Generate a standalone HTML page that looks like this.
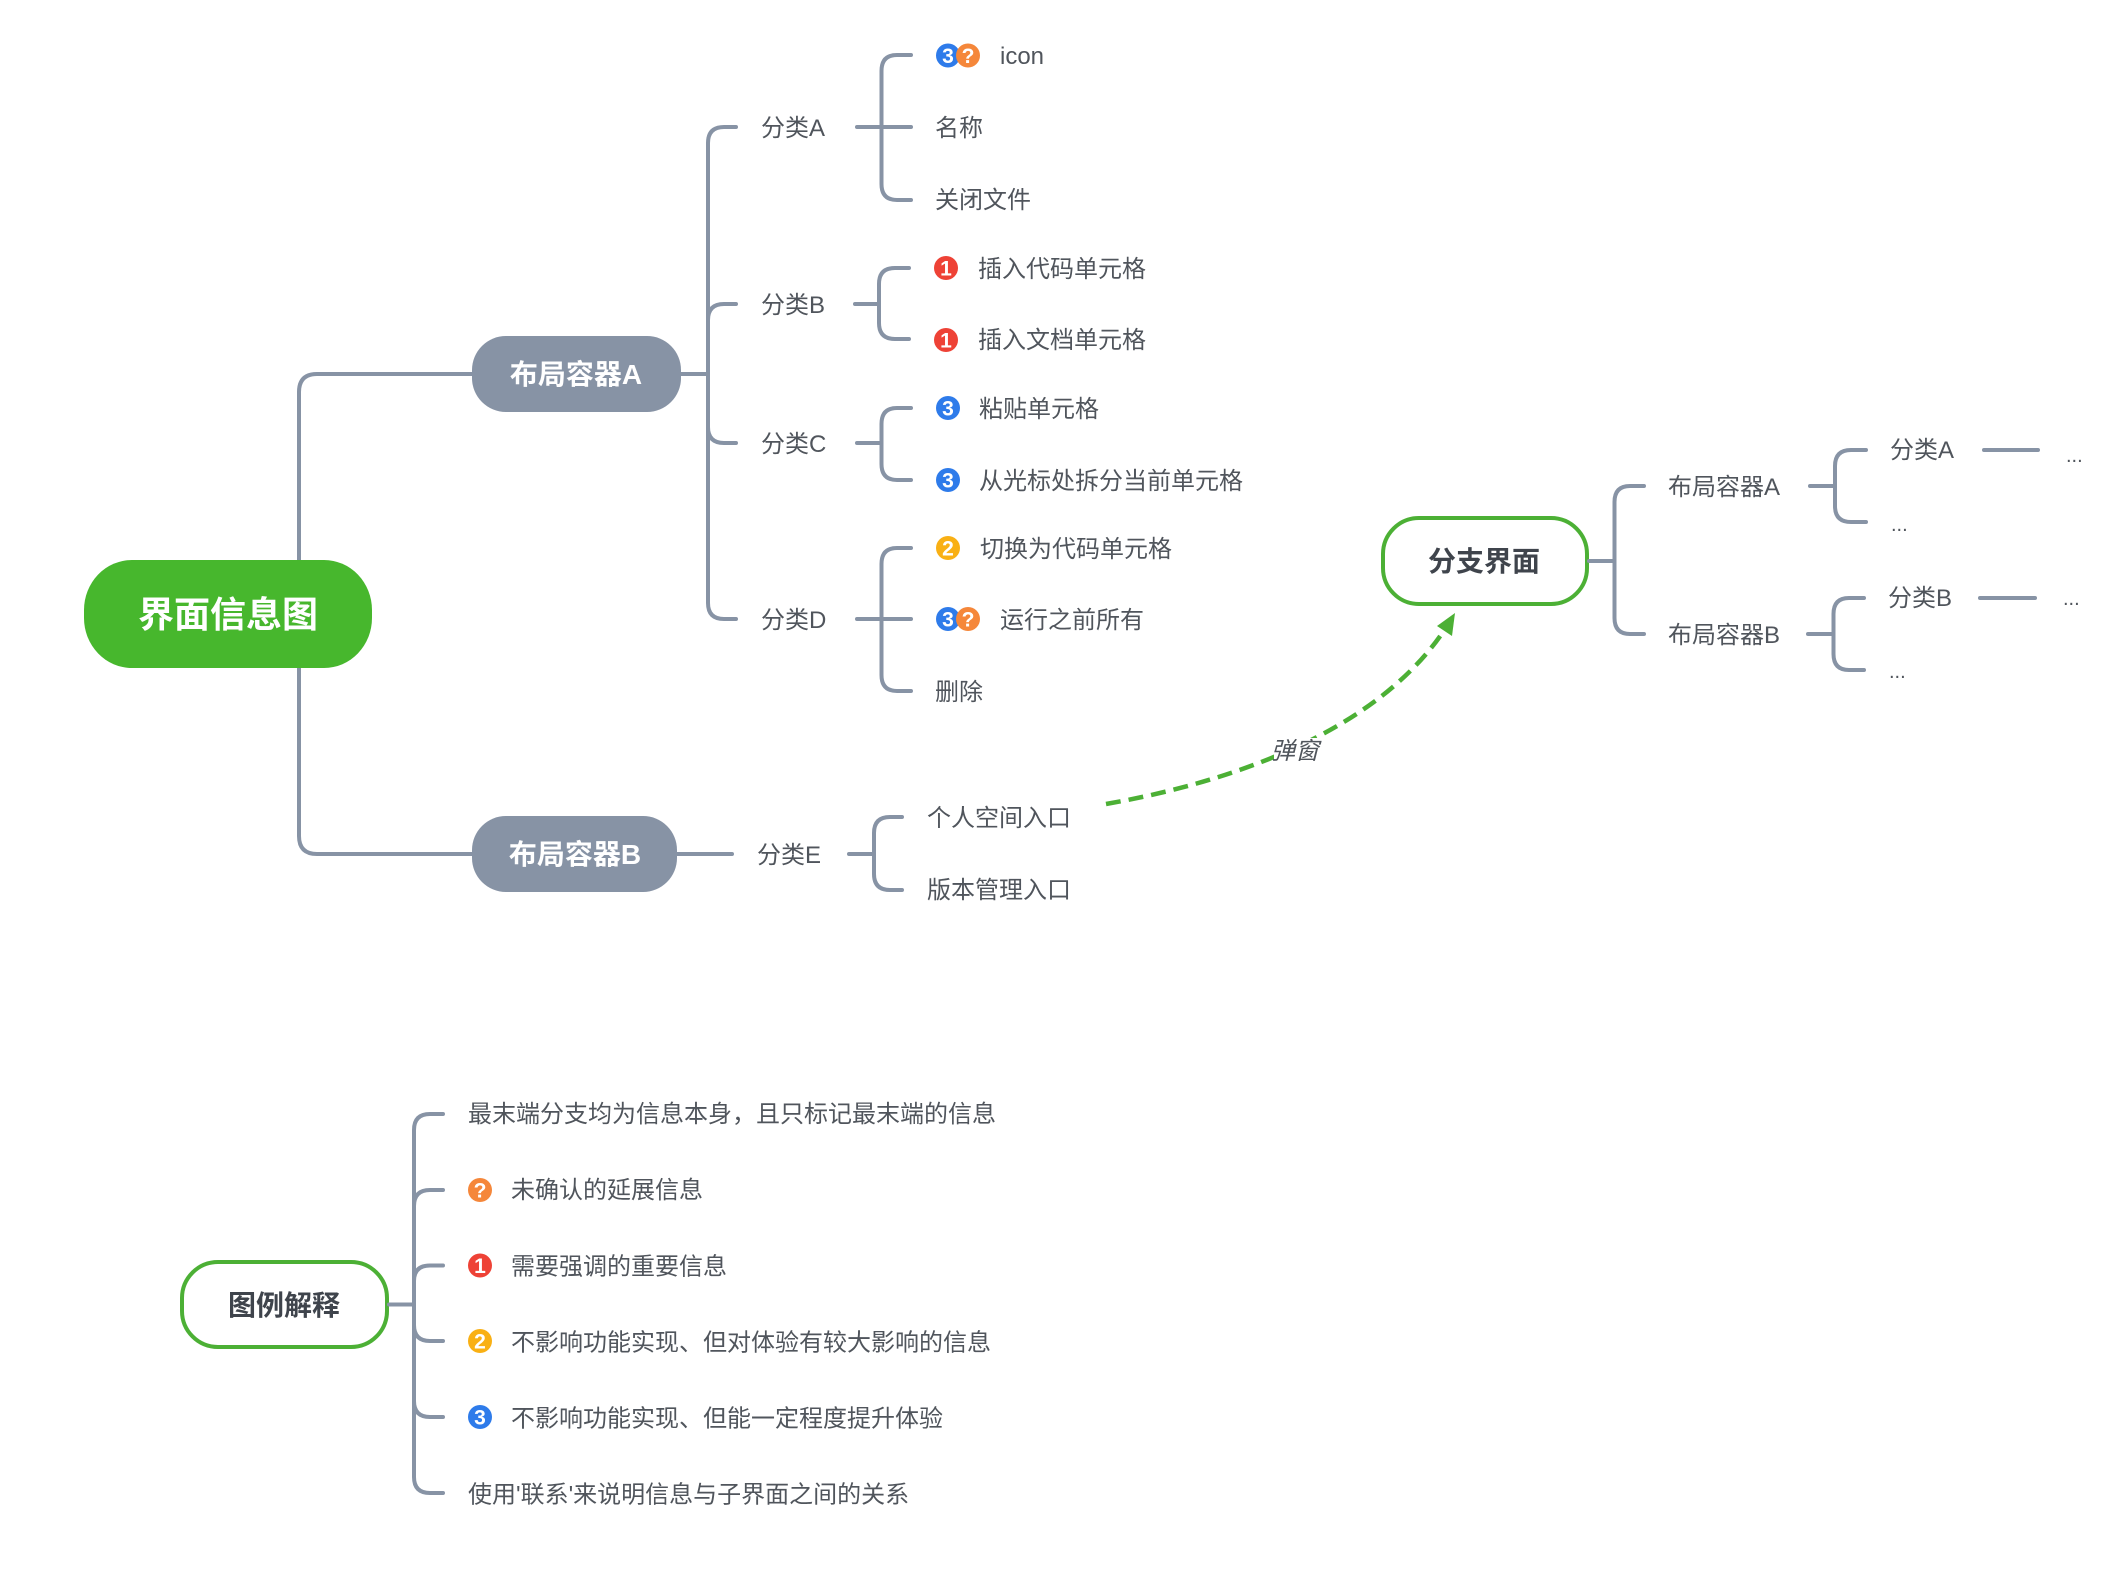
<!DOCTYPE html>
<html lang="zh"><head><meta charset="utf-8"><title>界面信息图</title>
<style>
html,body{margin:0;padding:0;background:#fff}
svg{display:block}
text{font-family:"Liberation Sans","Noto Sans CJK SC",sans-serif}
.t{font-size:24px;fill:#50555c}
.l{fill:none;stroke:#8793a5;stroke-width:4;stroke-linecap:round}
.n{font-size:28px;font-weight:700;fill:#fff;text-anchor:middle}
.d{font-size:28px;font-weight:700;fill:#3f444c;text-anchor:middle}
.i{font-size:21px;font-weight:700;fill:#fff;text-anchor:middle}
.o{fill:#fff;stroke:#4cb035;stroke-width:4}
.dots{font-size:20px;fill:#50555c}
</style></head><body>
<svg width="2120" height="1574" viewBox="0 0 2120 1574" xmlns="http://www.w3.org/2000/svg">
<rect width="2120" height="1574" fill="#fff"/>

<!-- root connectors -->
<path class="l" d="M299 560V392Q299 374 317 374H472"/>
<path class="l" d="M299 668V836Q299 854 317 854H472"/>

<!-- container A connectors -->
<path class="l" d="M681 374H708"/>
<path class="l" d="M736 127H724Q708 127 708 143V603Q708 619 724 619H736"/>
<path class="l" d="M708 320Q708 304 724 304H736"/>
<path class="l" d="M708 427Q708 443 724 443H736"/>

<!-- class A -->
<path class="l" d="M857 127H911"/>
<path class="l" d="M911 55H897Q881.500 55 881.500 71V184Q881.500 200 897 200H911"/>
<!-- class B -->
<path class="l" d="M855 304H879"/>
<path class="l" d="M909 268H895Q879 268 879 284V323Q879 339 895 339H909"/>
<!-- class C -->
<path class="l" d="M857 443H881.500"/>
<path class="l" d="M911 408H897Q881.500 408 881.500 424V464Q881.500 480 897 480H911"/>
<!-- class D -->
<path class="l" d="M857 619H911"/>
<path class="l" d="M911 548H897Q881.500 548 881.500 564V675Q881.500 691 897 691H911"/>

<!-- container B connectors -->
<path class="l" d="M677 854H732"/>
<path class="l" d="M849 854H874"/>
<path class="l" d="M902 817H890Q874 817 874 833V874Q874 890 890 890H902"/>

<!-- nodes -->
<rect x="84" y="560" width="288" height="108" rx="48" ry="50" fill="#47b72d"/>
<text x="228" y="627" font-size="36" font-weight="700" fill="#fff" text-anchor="middle">界面信息图</text>
<rect x="472" y="336" width="209" height="76" rx="34" fill="#8793a5"/>
<text class="n" x="576" y="384">布局容器A</text>
<rect x="472" y="816" width="205" height="76" rx="34" fill="#8793a5"/>
<text class="n" x="575" y="864">布局容器B</text>

<!-- level 2 labels -->
<text class="t" x="761" y="136">分类A</text>
<text class="t" x="761" y="313">分类B</text>
<text class="t" x="761" y="452">分类C</text>
<text class="t" x="761" y="628">分类D</text>
<text class="t" x="757" y="863">分类E</text>

<!-- leaves -->
<circle cx="948" cy="55.500" r="12" fill="#2e7bea"/><text class="i" x="948" y="63">3</text>
<circle cx="968" cy="55.500" r="12" fill="#f5873a"/><text class="i" x="968" y="63">?</text>
<text class="t" x="1000" y="64">icon</text>
<text class="t" x="935" y="136">名称</text>
<text class="t" x="935" y="208">关闭文件</text>

<circle cx="946" cy="268" r="12" fill="#ee4236"/><text class="i" x="946" y="275.500">1</text>
<text class="t" x="978" y="277">插入代码单元格</text>
<circle cx="946" cy="340" r="12" fill="#ee4236"/><text class="i" x="946" y="347.500">1</text>
<text class="t" x="978" y="348">插入文档单元格</text>

<circle cx="948" cy="408" r="12" fill="#2e7bea"/><text class="i" x="948" y="415.500">3</text>
<text class="t" x="979" y="417">粘贴单元格</text>
<circle cx="948" cy="480" r="12" fill="#2e7bea"/><text class="i" x="948" y="487.500">3</text>
<text class="t" x="979" y="489">从光标处拆分当前单元格</text>

<circle cx="948" cy="548" r="12" fill="#f9b014"/><text class="i" x="948" y="555.500">2</text>
<text class="t" x="980" y="557">切换为代码单元格</text>
<circle cx="948" cy="619" r="12" fill="#2e7bea"/><text class="i" x="948" y="626.500">3</text>
<circle cx="968" cy="619" r="12" fill="#f5873a"/><text class="i" x="968" y="626.500">?</text>
<text class="t" x="1000" y="628">运行之前所有</text>
<text class="t" x="935" y="700">删除</text>

<text class="t" x="927" y="826">个人空间入口</text>
<text class="t" x="927" y="898">版本管理入口</text>

<!-- relationship -->
<path d="M1106 804C1215 785 1375 738 1447 626" fill="none" stroke="#4cb035" stroke-width="4.500" stroke-dasharray="15 8"/>
<path d="M1455 613L1452 636L1437 626Z" fill="#4cb035"/>
<rect x="1274" y="738" width="46" height="26" fill="#fff"/>
<text x="1271" y="759" font-size="24" font-style="italic" fill="#50555c">弹窗</text>

<!-- branch view -->
<rect class="o" x="1383" y="518" width="204" height="86" rx="36"/>
<text class="d" x="1484" y="571">分支界面</text>
<path class="l" d="M1589 561H1614.500"/>
<path class="l" d="M1644 486H1630Q1614.500 486 1614.500 502V618Q1614.500 634 1630 634H1644"/>
<text class="t" x="1668" y="495">布局容器A</text>
<text class="t" x="1668" y="643">布局容器B</text>
<path class="l" d="M1810 486H1835"/>
<path class="l" d="M1866 450H1851Q1835 450 1835 466V506Q1835 522 1851 522H1866"/>
<path class="l" d="M1808 634H1833.500"/>
<path class="l" d="M1864 598H1849Q1833.500 598 1833.500 614V654Q1833.500 670 1849 670H1864"/>
<text class="t" x="1890" y="458">分类A</text>
<text class="t" x="1888" y="606">分类B</text>
<path class="l" d="M1984 450H2038"/>
<path class="l" d="M1980 598H2035"/>
<text class="dots" x="2066" y="462">...</text>
<text class="dots" x="2063" y="605">...</text>
<text class="dots" x="1891" y="531">...</text>
<text class="dots" x="1889" y="678">...</text>

<!-- legend -->
<rect class="o" x="182" y="1262" width="205" height="85" rx="36"/>
<text class="d" x="284" y="1315">图例解释</text>
<path class="l" d="M389 1304.500H414"/>
<path class="l" d="M443 1114H430Q414 1114 414 1130V1477Q414 1493 430 1493H443"/>
<path class="l" d="M414 1206Q414 1190 430 1190H443"/>
<path class="l" d="M414 1281Q414 1265.500 430 1265.500H443"/>
<path class="l" d="M414 1325Q414 1341 430 1341H443"/>
<path class="l" d="M414 1401Q414 1417 430 1417H443"/>

<text class="t" x="468" y="1122">最末端分支均为信息本身，且只标记最末端的信息</text>
<circle cx="480" cy="1190" r="12" fill="#f5873a"/><text class="i" x="480" y="1197.500">?</text>
<text class="t" x="511" y="1198">未确认的延展信息</text>
<circle cx="480" cy="1265.500" r="12" fill="#ee4236"/><text class="i" x="480" y="1273">1</text>
<text class="t" x="511" y="1274.500">需要强调的重要信息</text>
<circle cx="480" cy="1341" r="12" fill="#f9b014"/><text class="i" x="480" y="1348.500">2</text>
<text class="t" x="511" y="1350.500">不影响功能实现、但对体验有较大影响的信息</text>
<circle cx="480" cy="1417" r="12" fill="#2e7bea"/><text class="i" x="480" y="1424.500">3</text>
<text class="t" x="511" y="1426.500">不影响功能实现、但能一定程度提升体验</text>
<text class="t" x="468" y="1502.500">使用'联系'来说明信息与子界面之间的关系</text>
</svg>
</body></html>
